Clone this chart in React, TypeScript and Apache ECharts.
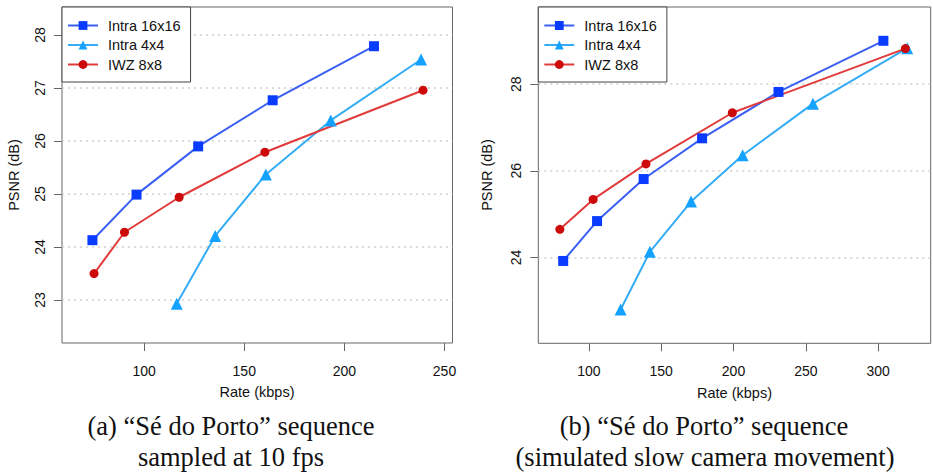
import React, { useEffect, useRef } from "react";
import * as echarts from "echarts";

const seriesNames = ["Intra 16x16", "Intra 4x4", "IWZ 8x8"];

// Panel (a): "Sé do Porto" sampled at 10 fps — rate (kbps) vs PSNR (dB)
const rateA16 = [74.2, 96.2, 127.0, 164.2, 214.8];
const psnrA16 = [24.13, 24.99, 25.9, 26.77, 27.79];
const rateA4 = [116.3, 135.5, 160.8, 193.2, 238.3];
const psnrA4 = [22.93, 24.21, 25.37, 26.39, 27.54];
const rateAIwz = [75.0, 90.2, 117.5, 160.3, 239.3];
const psnrAIwz = [23.5, 24.28, 24.94, 25.79, 26.96];

// Panel (b): simulated slow camera movement
const rateB16 = [82.3, 105.7, 137.9, 178.3, 231.1, 303.6];
const psnrB16 = [23.92, 24.84, 25.81, 26.75, 27.82, 29.0];
const rateB4 = [122.0, 142.2, 170.7, 206.3, 254.9, 320.1];
const psnrB4 = [22.8, 24.13, 25.29, 26.36, 27.55, 28.83];
const rateBIwz = [80.0, 103.0, 139.5, 199.2, 318.8];
const psnrBIwz = [24.65, 25.34, 26.16, 27.34, 28.82];

const xTicksA = [100, 150, 200, 250];
const yTicksA = [23, 24, 25, 26, 27, 28];
const xTicksB = [100, 150, 200, 250, 300];
const yTicksB = [24, 26, 28];

const captionA = ["(a) \u201cSé do Porto\u201d sequence", "sampled at 10 fps"];
const captionB = ["(b) \u201cSé do Porto\u201d sequence", "(simulated slow camera movement)"];

const SANS = "'Liberation Sans', Arial, Helvetica, sans-serif";
const SERIF = "'Liberation Serif', 'Times New Roman', Times, serif";

const BLUE = { marker: "#0a3cff", line: "#3b5ff2" };
const SKY = { marker: "#13a2ff", line: "#35acf6" };
const RED = { marker: "#cc0a0a", line: "#e03a3a" };

const zip = (xs: number[], ys: number[]) => xs.map((x, i) => [x, ys[i]]);

function lineSeries(
  name: string,
  xs: number[],
  ys: number[],
  idx: number,
  col: { marker: string; line: string },
  symbol: string,
  size: number
) {
  return {
    type: "line",
    name,
    xAxisIndex: idx,
    yAxisIndex: idx,
    data: zip(xs, ys),
    symbol,
    symbolSize: size,
    showSymbol: true,
    clip: false,
    silent: true,
    itemStyle: { color: col.marker },
    lineStyle: { color: col.line, width: 2 },
    emphasis: { disabled: true },
  };
}

function xAxis(gridIndex: number, min: number, max: number, ticks: number[]) {
  return {
    type: "value",
    gridIndex,
    min,
    max,
    axisLine: { show: false },
    axisTick: { show: true, length: 8, customValues: ticks, lineStyle: { color: "#666" } },
    axisLabel: {
      customValues: ticks,
      margin: 21,
      fontSize: 14,
      fontFamily: SANS,
      color: "#111",
    },
    splitLine: { show: false },
  };
}

function yAxis(gridIndex: number, min: number, max: number, ticks: number[]) {
  return {
    type: "value",
    gridIndex,
    min,
    max,
    axisLine: { show: false },
    axisTick: { show: true, length: 8, customValues: ticks, lineStyle: { color: "#666" } },
    axisLabel: {
      customValues: ticks,
      rotate: 90,
      margin: 15,
      fontSize: 14,
      fontFamily: SANS,
      color: "#111",
    },
    splitLine: {
      show: true,
      customValues: ticks,
      lineStyle: { color: "#cfcfcf", width: 1.5, type: [2, 4] },
    },
  };
}

function legend(left: number) {
  return {
    left,
    top: 7,
    orient: "vertical",
    data: seriesNames,
    itemWidth: 30,
    itemHeight: 11,
    itemGap: 4.5,
    padding: [11, 10, 10, 5],
    borderColor: "#444",
    borderWidth: 1,
    backgroundColor: "#fff",
    selectedMode: false,
    textStyle: {
      fontSize: 14.5,
      lineHeight: 14,
      fontFamily: SANS,
      color: "#111",
      padding: [0, 0, 0, 5],
    },
  };
}

function text(x: number, y: number, str: string, font: string, rotation = 0) {
  return {
    type: "text",
    x,
    y,
    rotation,
    silent: true,
    style: {
      text: str,
      font,
      fill: "#111",
      align: "center",
      verticalAlign: "middle",
      textAlign: "center",
      textVerticalAlign: "middle",
    },
  };
}

export default function App() {
  const ref = useRef<HTMLDivElement>(null);

  useEffect(() => {
    if (!ref.current) return;
    const chart = echarts.init(ref.current, null, { renderer: "svg" });
    const titleFont = `14.5px ${SANS}`;
    const capFont = `26.5px ${SERIF}`;
    chart.setOption({
      animation: false,
      backgroundColor: "#fff",
      grid: [
        { left: 62, top: 7, width: 390.5, height: 336, show: true, borderColor: "#666", borderWidth: 1 },
        { left: 538.3, top: 7, width: 392.4, height: 336.3, show: true, borderColor: "#666", borderWidth: 1 },
      ],
      xAxis: [xAxis(0, 59, 254, xTicksA), xAxis(1, 65.1, 336.3, xTicksB)],
      yAxis: [yAxis(0, 22.19, 28.53, yTicksA), yAxis(1, 22.02, 29.78, yTicksB)],
      legend: [legend(62), legend(538.3)],
      series: [
        lineSeries(seriesNames[0], rateA16, psnrA16, 0, BLUE, "rect", 10),
        lineSeries(seriesNames[1], rateA4, psnrA4, 0, SKY, "triangle", 12),
        lineSeries(seriesNames[2], rateAIwz, psnrAIwz, 0, RED, "circle", 9),
        lineSeries(seriesNames[0], rateB16, psnrB16, 1, BLUE, "rect", 10),
        lineSeries(seriesNames[1], rateB4, psnrB4, 1, SKY, "triangle", 12),
        lineSeries(seriesNames[2], rateBIwz, psnrBIwz, 1, RED, "circle", 9),
      ],
      graphic: [
        text(14, 175, "PSNR (dB)", titleFont, Math.PI / 2),
        text(487, 175, "PSNR (dB)", titleFont, Math.PI / 2),
        text(257, 392, "Rate (kbps)", titleFont),
        text(734.5, 393, "Rate (kbps)", titleFont),
        text(231, 426, captionA[0], capFont),
        text(231, 457, captionA[1], capFont),
        text(704, 426, captionB[0], capFont),
        text(705, 457, captionB[1], capFont),
      ],
    });
    return () => chart.dispose();
  }, []);

  return (
    <div
      ref={ref}
      style={{ position: "absolute", left: 0, top: 0, width: 933, height: 473 }}
    />
  );
}
